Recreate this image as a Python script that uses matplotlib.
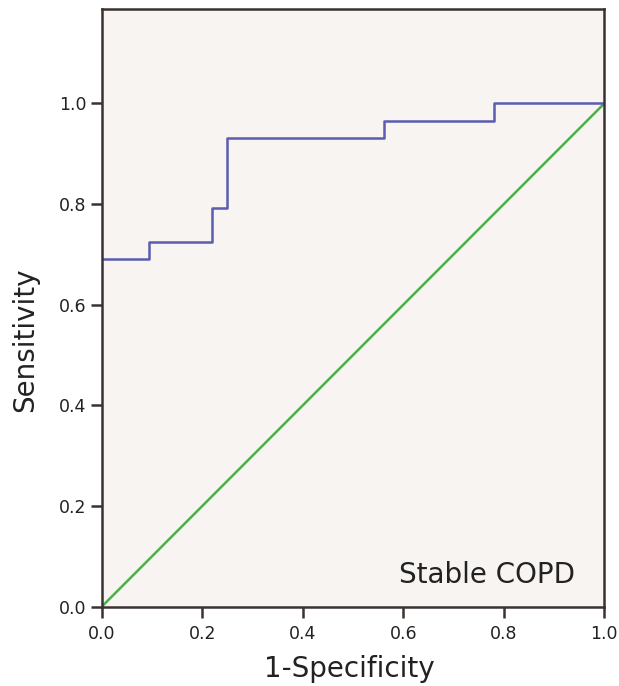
import numpy as np
import matplotlib
matplotlib.use("Agg")
import matplotlib.pyplot as plt

# ROC step points (1-specificity, sensitivity)
fpr = [0.0, 0.094, 0.094, 0.219, 0.219, 0.25, 0.25, 0.5625, 0.5625, 0.781, 0.781, 1.0]
tpr = [0.690, 0.690, 0.724, 0.724, 0.793, 0.793, 0.931, 0.931, 0.966, 0.966, 1.0, 1.0]
ref_x = [0.0, 1.0]
ref_y = [0.0, 1.0]
ticks = [0.0, 0.2, 0.4, 0.6, 0.8, 1.0]

fig = plt.figure(figsize=(6.19, 6.86), dpi=100)
ax = fig.add_axes([0.1643, 0.1156, 0.812, 0.8708])
ax.set_facecolor('#f8f4f1')

ax.plot(ref_x, ref_y, color='#4caf4c', lw=1.8)
ax.plot(fpr, tpr, color='#5c5cb0', lw=1.8)

ax.set_xlim(0, 1)
ax.set_ylim(0, 1.187)
ax.set_xticks(ticks)
ax.set_yticks(ticks)
ax.set_xticklabels(['%.1f' % t for t in ticks])
ax.set_yticklabels(['%.1f' % t for t in ticks])
ax.tick_params(direction='out', length=8, width=1.8, color='#3a3230',
               labelsize=12.5, labelcolor='#222222')
ax.tick_params(axis='x', pad=5)
ax.tick_params(axis='y', pad=3)
for s in ax.spines.values():
    s.set_linewidth(1.8)
    s.set_color('#3a3230')

ax.set_xlabel('1-Specificity', fontsize=20, color='#222222', labelpad=9)
ax.set_ylabel('Sensitivity', fontsize=20, color='#222222', labelpad=14)
ax.xaxis.label.set_x(0.492)
ax.yaxis.label.set_y(0.447)
ax.text(0.942, 0.04, 'Stable COPD', transform=ax.transAxes, ha='right', va='baseline',
        fontsize=20, color='#222222')

fig.savefig('out.png', dpi=100)
